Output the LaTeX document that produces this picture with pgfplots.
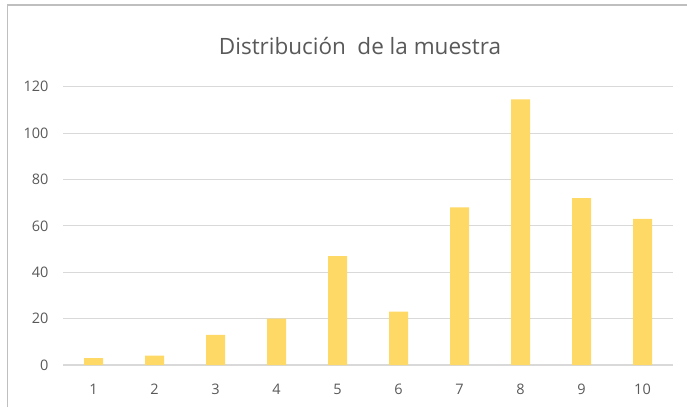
\documentclass[border=0pt]{standalone}
\usepackage{fontspec}
\setmainfont{Open Sans}
\usepackage{pgfplots}
\pgfplotsset{compat=1.18}
\definecolor{barc}{HTML}{FFD966}
\definecolor{gridc}{HTML}{D9D9D9}
\definecolor{txt}{HTML}{595959}
\definecolor{framec}{HTML}{BFBFBF}
\begin{document}
\begin{tikzpicture}[x=1pt,y=1pt]
\path[use as bounding box] (0,0) rectangle (687,407);
\draw[framec, line width=1.2pt] (7.5,0) -- (7.5,402) -- (687,402);
\node[txt, anchor=base, font=\fontsize{22.5}{26}\selectfont, inner sep=0pt] at (360,352.7) {Distribución\hspace{0.25em} de la muestra};
\begin{axis}[
  at={(63pt,42pt)}, anchor=south west,
  scale only axis, width=610pt, height=278.3pt,
  xmin=0.5, xmax=10.5, ymin=0, ymax=120,
  axis line style={draw=none},
  axis x line*=bottom,
  ytick={0,20,...,120},
  xtick={1,...,10},
  ymajorgrids, grid style={gridc, line width=1pt},
  major tick length=0pt,
  tick style={draw=none},
  /pgf/number format/assume math mode=true,
  ticklabel style={txt, font=\fontsize{14.5}{17}\selectfont},
  yticklabel style={xshift=-11pt},
  xticklabel style={yshift=-15.5pt},
  extra y ticks={0}, extra y tick labels={},
  extra y tick style={grid style={gridc, line width=1.2pt}},
]
\addplot[ybar, bar width=19pt, fill=barc, draw=none] coordinates {
(1,3) (2,4) (3,13) (4,20) (5,47) (6,23) (7,68) (8,114.5) (9,72) (10,63)
};
\end{axis}
\end{tikzpicture}
\end{document}
